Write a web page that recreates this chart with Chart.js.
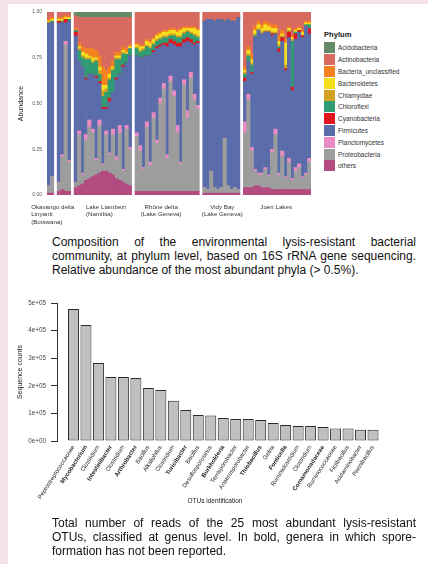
<!DOCTYPE html>
<html>
<head>
<meta charset="utf-8">
<script src="https://cdn.jsdelivr.net/npm/chart.js@4.4.0/dist/chart.umd.min.js"></script>
<style>
  html, body { margin: 0; padding: 0; }
  body { width: 428px; height: 564px; position: relative; overflow: hidden; background: #f4e4e7;
         font-family: "Liberation Sans", Arial, sans-serif; color: #111; }
  #sheet { position: absolute; left: 8px; top: 4px; right: 0; bottom: 0; background: #fff; }
  canvas { position: absolute; left: 0; }
  #phylum { top: 0; }
  #otus { top: 290px; }
  #legend { position: absolute; left: 324px; top: 30px; font-size: 6.5px; color: #333; }
  #legend .ttl { font-weight: bold; font-size: 7.6px; color: #222; height: 12px; }
  #legend .item { height: 11.8px; display: flex; align-items: center; }
  #legend .sw { width: 11px; height: 11px; margin-right: 3px; }
  #xtitle { position: absolute; left: 165px; width: 100px; top: 497px; text-align: center;
            font-size: 6.5px; color: #222; }
  .cap { position: absolute; left: 52px; width: 364px; font-size: 12px; line-height: 14px; }
  .cap div { white-space: nowrap; }
  .cap .j { text-align: justify; text-align-last: justify; white-space: normal; }
</style>
</head>
<body>
<div id="sheet"></div>
<canvas id="phylum" width="320" height="232"></canvas>
<div id="legend"></div>
<div class="cap" style="top:235px">
  <div class="j">Composition of the environmental lysis-resistant bacterial</div>
  <div class="j">community, at phylum level, based on 16S rRNA gene sequencing.</div>
  <div>Relative abundance of the most abundant phyla (&gt; 0.5%).</div>
</div>
<canvas id="otus" width="400" height="222"></canvas>
<div id="xtitle">OTUs identification</div>
<div class="cap" style="top:516px">
  <div class="j">Total number of reads of the 25 most abundant lysis-resistant</div>
  <div class="j">OTUs, classified at genus level. In bold, genera in which spore-</div>
  <div>formation has not been reported.</div>
</div>
<script>
// ---- top chart: relative abundance (%) per sample, by site panel ----
const panelSizes = [2, 4, 17, 19, 11, 20];
const siteNames = [['Okavango delta', 'Linyanti', '(Botswana)'], ['Lake Liambezi', '(Namibia)'],
  ['Rhône delta', '(Lake Geneva)'], ['Vidy Bay', '(Lake Geneva)'], ['Joeri Lakes']];
const sitePanels = [[0, 1], [2], [3], [4], [5]];

const others = [1,1, 2,3,2,2, 4,5,6,8,9,10,11,12,13,13,12,11,9,8,7,6,5,
  2,2,2,2,2,2,2,2,2,2,2,2,2,2,2,2,2,2,2, 1,1,1,1,1,1,1,1,1,1,1,
  4,4,4,5,5,4,4,4,3,3,3,3,3,3,3,3,3,3,3,3];
const proteobacteria = [4,9, 5,18,80,16, 3,28,5,22,28,24,8,26,3,20,10,22,10,26,6,30,20,
  30,22,12,35,14,40,26,48,56,18,60,52,32,15,58,40,62,50,45, 3,2,12,3,2,3,30,4,2,3,2,
  30,48,20,8,6,7,10,6,20,30,8,18,6,15,5,10,12,6,8,15];
const planctomycetes = [0,0, 0,1,2,1, 0,2,1,3,4,2,1,3,1,2,1,3,2,4,1,2,1,
  2,3,1,3,2,3,2,3,3,2,3,3,4,1,3,4,3,3,2, 0,0,0,0,0,0,0,0,0,0,0,
  6,3,2,1,1,1,1,1,2,3,1,3,1,2,1,2,2,1,1,2];
const firmicutes = [89,84, 87,72,10,76, 80,38,58,30,25,30,44,20,30,12,28,20,42,28,56,34,50,
  42,48,60,36,58,33,50,28,21,59,18,25,43,63,20,38,16,27,34, 91,93,83,91,93,92,64,91,92,91,94,
  22,18,40,72,78,76,74,78,62,52,66,60,58,66,48,70,72,76,80,68];
const cyanobacteria = [0,0, 1,0,2,0, 2,0,0,1,0,0,1,1,1,1,2,0,1,0,1,0,0,
  0,0,0,0,0,1,1,1,1,2,2,2,2,2,2,2,2,1,1, 0,0,0,0,0,0,0,0,0,0,0,
  2,0,1,0,0,0,0,0,1,0,2,2,1,3,2,3,1,1,0,3];
const chloroflexi = [0,1, 0,1,0,1, 1,6,5,10,8,6,8,4,6,8,10,12,10,8,6,5,4,
  4,3,4,5,4,3,3,3,3,3,2,3,3,3,3,3,3,4,2, 0,0,0,0,0,0,0,0,0,0,0,
  2,3,4,1,0,0,0,0,0,0,1,0,0,0,25,1,0,0,1,2];
const chlamydiae = [0,0, 0,0,0,0, 0,1,1,1,1,1,1,2,3,2,1,1,1,1,1,0,0,
  1,1,1,1,1,1,1,1,1,1,1,1,1,1,1,1,1,1,1, 0,0,0,0,0,0,0,0,0,0,0,
  1,1,1,1,1,1,1,1,1,1,1,1,2,1,1,0,0,0,0,0];
const bacteroidetes = [1,1, 1,1,1,1, 0,1,2,2,1,2,1,2,3,2,2,1,1,1,1,1,1,
  1,2,1,2,2,2,2,2,2,2,2,2,2,3,2,1,2,3,3, 0,0,0,0,0,0,0,0,0,0,0,
  1,2,2,2,2,2,3,2,2,2,2,1,12,1,1,1,1,2,1,1];
const unclassified = [1,1, 1,1,1,0, 1,2,3,3,4,5,4,6,10,8,4,3,2,2,2,2,1,
  1,1,1,1,1,1,1,1,1,1,1,1,1,1,1,1,1,1,1, 0,0,0,0,0,0,0,0,0,0,0,
  2,2,3,2,2,2,2,2,2,2,3,2,2,1,1,1,1,1,1,1];
const actinobacteria = [4,3, 3,3,2,3, 7,14,16,17,17,17,18,21,27,29,27,24,19,19,16,17,15,
  17,18,18,15,16,14,12,11,10,10,9,9,10,9,8,8,8,8,9, 5,4,4,5,4,4,5,4,5,5,3,
  30,19,23,8,5,7,5,6,7,7,13,10,15,8,13,9,8,10,5,5];
const acidobacteria = [0,0, 0,0,0,0, 2,3,3,3,3,3,3,3,3,3,3,3,3,3,3,3,3,
  0,0,0,0,0,0,0,0,0,0,0,0,0,0,0,0,0,0,0, 0,0,0,0,0,0,0,0,0,0,0,
  0,0,0,0,0,0,0,0,0,0,0,0,0,0,0,0,0,0,0,0];

// legend order (top to bottom); stacking goes the other way
const phyla = [
  ['Acidobacteria', acidobacteria, '#648a68'],
  ['Actinobacteria', actinobacteria, '#d86a60'],
  ['Bacteria_unclassified', unclassified, '#f5821f'],
  ['Bacteroidetes', bacteroidetes, '#f6df1c'],
  ['Chlamydiae', chlamydiae, '#d2a224'],
  ['Chloroflexi', chloroflexi, '#2f9c73'],
  ['Cyanobacteria', cyanobacteria, '#e0161f'],
  ['Firmicutes', firmicutes, '#5a6caa'],
  ['Planctomycetes', planctomycetes, '#ea8bc3'],
  ['Proteobacteria', proteobacteria, '#9d9d9d'],
  ['others', others, '#b34a80']
];

// insert an empty slot between panels
const panelStart = [];
function withGaps(arr) {
  const out = [];
  let k = 0;
  panelSizes.forEach((n, p) => {
    if (p > 0) out.push(null);
    for (let i = 0; i < n; i++) out.push(arr[k++]);
  });
  return out;
}
let pos = 0;
panelSizes.forEach(n => { panelStart.push(pos); pos += n + 1; });
const slots = withGaps(others).map((_, i) => 's' + i);

const legend = document.getElementById('legend');
legend.innerHTML = '<div class="ttl">Phylum</div>' + phyla.map(p =>
  `<div class="item"><span class="sw" style="background:${p[2]}"></span>${p[0]}</div>`).join('');

// small nudges so the site names sit where the original put them
const siteShift = [-6, 3, -6, 1, -1];
const siteLabels = {
  id: 'siteLabels',
  afterDraw(chart) {
    const x = chart.scales.x, ctx = chart.ctx;
    ctx.save();
    ctx.font = '6.2px "Liberation Sans", Arial, sans-serif';
    ctx.fillStyle = '#333';
    ctx.textBaseline = 'middle';
    sitePanels.forEach((ps, i) => {
      const last = ps[ps.length - 1];
      const a = x.getPixelForValue(panelStart[ps[0]]);
      const b = x.getPixelForValue(panelStart[last] + panelSizes[last] - 1);
      const cx = (a + b) / 2 + siteShift[i];
      const lines = siteNames[i];
      const w = Math.max(...lines.map(t => ctx.measureText(t).width));
      lines.forEach((t, j) => {
        const lx = i < 2 ? cx - w / 2 : cx - ctx.measureText(t).width / 2;
        ctx.fillText(t, lx, chart.chartArea.bottom + 12 + j * 7.5);
      });
    });
    ctx.restore();
  }
};

new Chart(document.getElementById('phylum'), {
  type: 'bar',
  data: {
    labels: slots,
    datasets: phyla.slice().reverse().map(p => ({
      label: p[0], data: withGaps(p[1]), backgroundColor: p[2],
      borderWidth: 0, barPercentage: 1, categoryPercentage: 1
    }))
  },
  options: {
    responsive: false,
    animation: false,
    layout: { padding: { left: 0, right: 9, top: 12, bottom: 37 } },
    plugins: { legend: { display: false }, tooltip: { enabled: false } },
    scales: {
      x: { stacked: true, display: false },
      y: {
        stacked: true, min: 0, max: 100,
        afterFit: s => { s.width = 47; },
        grid: { display: false, drawTicks: false },
        border: { display: false },
        ticks: { stepSize: 25, padding: 5, color: '#555', font: { size: 5, family: '"Liberation Sans", Arial' },
                 callback: v => (v / 100).toFixed(2) },
        title: { display: true, text: 'Abundance', color: '#222', padding: { top: 17 },
                 font: { size: 7, family: '"Liberation Sans", Arial' } }
      }
    }
  },
  plugins: [siteLabels]
});

// ---- bottom chart: sequence counts of the 25 most abundant OTUs ----
const otuNames = ['Peptostreptococcaceae', 'Mycobacterium', 'Clostridium', 'Intestinibacter', 'Clostridium',
  'Arthrobacter', 'Bacillus', 'Alkaliphilus', 'Clostridium', 'Turicibacter', 'Bacillus', 'Desulfosporosinus',
  'Burkholderia', 'Terrisporobacter', 'Anaerosporobacter', 'Thiobacillus', 'Gelria', 'Fonticella',
  'Ruminiclostridium', 'Clostridium', 'Comamonadaceae', 'Ruminococcaceae', 'Fictibacillus',
  'Acidaminobacter', 'Paenibacillus'];
const otuCounts = [478000, 420000, 283000, 232000, 232000, 228000, 192000, 185000, 146000, 112000,
  94000, 92000, 83000, 80000, 80000, 76000, 65000, 58000, 54000, 54000, 51000, 45000, 45000, 41000, 41000];
const otuBold = [false, true, false, true, false, true, false, false, false, true, false, false,
  true, false, false, true, false, true, false, false, true, false, false, false, false];
const yTicks = ['0e+00', '1e+05', '2e+05', '3e+05', '4e+05', '5e+05'];

new Chart(document.getElementById('otus'), {
  type: 'bar',
  data: {
    datasets: [{
      data: otuCounts.map((v, i) => ({ x: i + 1, y: v })),
      backgroundColor: '#c0c0c0', borderColor: '#2a2a2a', borderWidth: 1, borderSkipped: false,
      barPercentage: 0.88, categoryPercentage: 1
    }]
  },
  options: {
    responsive: false,
    animation: false,
    layout: { padding: { left: 0, right: 19.5, top: 13, bottom: 0 } },
    plugins: { legend: { display: false }, tooltip: { enabled: false } },
    scales: {
      x: {
        type: 'linear', min: -0.32, max: 25.6, offset: false,
        afterBuildTicks: s => { s.ticks = otuNames.map((_, i) => ({ value: i + 1 })); },
        afterFit: s => { s.height = 71; },
        grid: { display: false, drawTicks: false, offset: false },
        border: { display: false },
        ticks: {
          autoSkip: false, minRotation: 57, maxRotation: 57, padding: 3, color: '#222',
          callback: v => otuNames[v - 1],
          font: c => ({ size: 6, family: '"Liberation Sans", Arial', weight: otuBold[c.index] ? 'bold' : 'normal' })
        }
      },
      y: {
        min: 0, max: 500000,
        afterFit: s => { s.width = 57; },
        grid: { drawOnChartArea: false, drawTicks: true, tickLength: 6, color: '#333' },
        border: { display: true, color: '#333', width: 1 },
        ticks: { stepSize: 100000, padding: 5, color: '#444', font: { size: 6.3, family: '"Liberation Sans", Arial' },
                 callback: (v, i) => yTicks[i] },
        title: { display: true, text: 'Sequence counts', color: '#222', padding: { top: 16 },
                 font: { size: 7, family: '"Liberation Sans", Arial' } }
      }
    }
  }
});
</script>
</body>
</html>
